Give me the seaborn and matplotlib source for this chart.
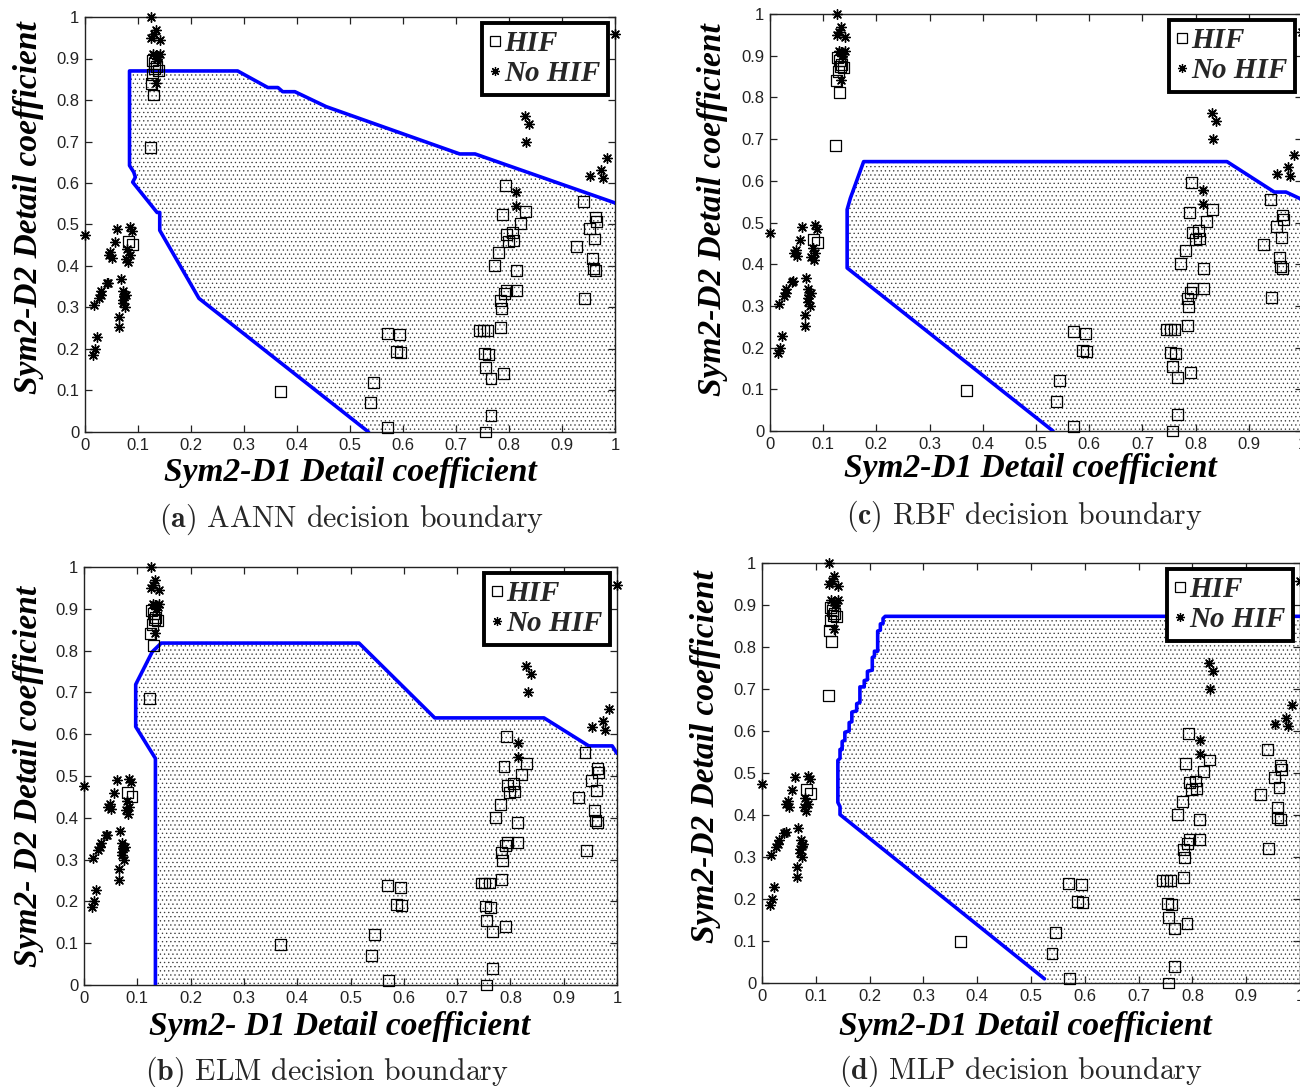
import matplotlib
matplotlib.use("Agg")
import matplotlib.pyplot as plt
from matplotlib.lines import Line2D
import seaborn as sns
import pandas as pd

# ---------------- data ----------------
hif_x = [0.123, 0.130, 0.125, 0.128, 0.132, 0.138, 0.127, 0.131, 0.135, 0.082, 0.090,
         0.369, 0.571, 0.539, 0.545, 0.570, 0.593, 0.587, 0.595,
         0.756, 0.766, 0.745, 0.752, 0.760, 0.753, 0.762, 0.756, 0.766, 0.790,
         0.784, 0.786, 0.784, 0.791, 0.795, 0.814, 0.814, 0.772, 0.781, 0.795,
         0.799, 0.806, 0.808, 0.788, 0.821, 0.831, 0.793,
         0.940, 0.927, 0.942, 0.952, 0.963, 0.965, 0.961, 0.958, 0.959, 0.964]
hif_y = [0.685, 0.812, 0.840, 0.862, 0.875, 0.872, 0.895, 0.888, 0.880, 0.460, 0.452,
         0.098, 0.010, 0.071, 0.120, 0.238, 0.234, 0.193, 0.191,
         0.000, 0.040, 0.244, 0.244, 0.244, 0.189, 0.186, 0.155, 0.129, 0.141,
         0.252, 0.298, 0.317, 0.333, 0.341, 0.341, 0.389, 0.401, 0.432, 0.477,
         0.460, 0.481, 0.462, 0.523, 0.503, 0.531, 0.595,
         0.556, 0.448, 0.321, 0.490, 0.518, 0.508, 0.465, 0.417, 0.394, 0.389]

nohif_x = [0.000, 0.015, 0.019, 0.022, 0.017, 0.026, 0.030, 0.031, 0.041, 0.044,
           0.045, 0.048, 0.050, 0.056, 0.061, 0.067, 0.065, 0.065,
           0.071, 0.074, 0.071, 0.077, 0.072, 0.075, 0.078, 0.082, 0.085, 0.080,
           0.085, 0.089,
           0.125, 0.125, 0.130, 0.134, 0.141, 0.129, 0.134, 0.138, 0.141, 0.136, 0.134,
           0.830, 0.838, 0.833, 0.814, 0.814, 0.985, 0.974, 0.953, 0.978, 1.000]
nohif_y = [0.475, 0.186, 0.200, 0.228, 0.305, 0.323, 0.331, 0.340, 0.358, 0.360,
           0.426, 0.434, 0.420, 0.459, 0.490, 0.368, 0.277, 0.252,
           0.318, 0.327, 0.310, 0.331, 0.340, 0.300, 0.418, 0.409, 0.426, 0.440,
           0.493, 0.485,
           1.000, 0.950, 0.958, 0.969, 0.945, 0.912, 0.908, 0.904, 0.912, 0.900, 0.842,
           0.762, 0.743, 0.700, 0.578, 0.545, 0.661, 0.632, 0.617, 0.611, 0.958]

# decision boundaries (polyline from the bottom edge round to the right edge)
aann_bx = [0.535, 0.215, 0.141, 0.141, 0.136, 0.090, 0.095, 0.092, 0.084, 0.084,
           0.288, 0.345, 0.364, 0.373, 0.396, 0.455, 0.707, 0.736, 1.000]
aann_by = [0.000, 0.322, 0.486, 0.529, 0.529, 0.602, 0.614, 0.626, 0.642, 0.870,
           0.870, 0.830, 0.830, 0.820, 0.820, 0.784, 0.670, 0.670, 0.552]

elm_bx = [0.134, 0.134, 0.097, 0.097, 0.128, 0.145, 0.516, 0.658, 0.863, 0.947, 0.991, 1.000]
elm_by = [0.000, 0.542, 0.618, 0.719, 0.797, 0.818, 0.818, 0.639, 0.639, 0.572, 0.572, 0.554]

rbf_bx = [0.532, 0.145, 0.145, 0.151, 0.176, 0.859, 0.948, 0.970, 1.000]
rbf_by = [0.000, 0.391, 0.531, 0.558, 0.646, 0.646, 0.573, 0.573, 0.555]

mlp_bx = [0.525, 0.145, 0.145, 0.141, 0.141, 0.145, 0.145, 0.149, 0.149, 0.154, 0.154,
          0.162, 0.162, 0.167, 0.167, 0.176, 0.176, 0.182, 0.182, 0.190, 0.190,
          0.196, 0.196, 0.205, 0.205, 0.209, 0.209, 0.215, 0.215, 0.220, 0.220,
          0.225, 0.225, 0.229, 1.000]
mlp_by = [0.010, 0.401, 0.420, 0.430, 0.530, 0.535, 0.556, 0.556, 0.575, 0.578, 0.597,
          0.600, 0.620, 0.622, 0.645, 0.648, 0.665, 0.668, 0.705, 0.705, 0.720,
          0.722, 0.742, 0.745, 0.775, 0.778, 0.790, 0.790, 0.838, 0.840, 0.855,
          0.856, 0.868, 0.873, 0.873]

tick_vals = [0, 0.1, 0.2, 0.3, 0.4, 0.5, 0.6, 0.7, 0.8, 0.9, 1]
tick_labels = ["0", "0.1", "0.2", "0.3", "0.4", "0.5", "0.6", "0.7", "0.8", "0.9", "1"]

panels = [
    dict(key="a", bx=aann_bx, by=aann_by, xlabel="Sym2-D1 Detail coefficient",
         ylabel="Sym2-D2 Detail coefficient", caption="AANN decision boundary"),
    dict(key="b", bx=elm_bx, by=elm_by, xlabel="Sym2- D1 Detail coefficient",
         ylabel="Sym2- D2 Detail coefficient", caption="ELM decision boundary"),
    dict(key="c", bx=rbf_bx, by=rbf_by, xlabel="Sym2-D1 Detail coefficient",
         ylabel="Sym2-D2 Detail coefficient", caption="RBF decision boundary"),
    dict(key="d", bx=mlp_bx, by=mlp_by, xlabel="Sym2-D1 Detail coefficient",
         ylabel="Sym2-D2 Detail coefficient", caption="MLP decision boundary"),
]

# ---------------- style ----------------
sns.set_theme(style="ticks")
plt.rcParams["font.family"] = ["Liberation Sans", "DejaVu Sans"]
plt.rcParams["mathtext.fontset"] = "cm"
plt.rcParams["hatch.linewidth"] = 0.45
plt.rcParams["hatch.color"] = "#3a3a3a"

W, H = 1300, 1087
fig = plt.figure(figsize=(W / 100, H / 100), dpi=100)

# pixel layout: left, right, top, bottom of each axes
layout = {
    "a": (85, 615, 17, 432),
    "b": (84, 617, 567, 985),
    "c": (770, 1302, 14, 431),
    "d": (762, 1300, 563, 983),
}
ylab_pos = {"a": (-0.077, 0.54), "b": (-0.075, 0.50), "c": (-0.079, 0.53), "d": (-0.076, 0.54)}
xlab_pos = {"a": (0.50, -0.060), "b": (0.48, -0.062), "c": (0.49, -0.053), "d": (0.49, -0.066)}
cap_pos = {"a": (352, 519), "b": (327, 1072), "c": (1024, 516), "d": (1021, 1071)}

lab_font = dict(family=["Liberation Serif"], weight="bold", style="italic", size=24)

asterisk = (8, 2, 0)
df_hif = pd.DataFrame({"x": hif_x, "y": hif_y})
df_no = pd.DataFrame({"x": nohif_x, "y": nohif_y})

for p in panels:
    k = p["key"]
    l, r, t, b = layout[k]
    ax = fig.add_axes([l / W, 1 - b / H, (r - l) / W, (b - t) / H])
    ax.set_facecolor("white")

    # stippled region classified as HIF
    fx = list(p["bx"]) + [1.0, p["bx"][0]]
    fy = list(p["by"]) + [0.0, 0.0]
    ax.fill(fx, fy, facecolor="none", edgecolor="#3a3a3a", linewidth=0,
            hatch="....", zorder=1)

    # decision boundary
    sns.lineplot(x=p["bx"], y=p["by"], sort=False, estimator=None, ax=ax,
                 color="#0000ff", linewidth=2.6, zorder=3)

    # data points
    sns.scatterplot(data=df_hif, x="x", y="y", ax=ax, marker="s", s=62,
                    facecolor="none", edgecolor="black", linewidth=0.9,
                    zorder=4, clip_on=False, legend=False)
    sns.scatterplot(data=df_no, x="x", y="y", ax=ax, marker=asterisk, s=48,
                    color="black", edgecolor="black", linewidth=1.0,
                    zorder=4, clip_on=False, legend=False)

    ax.set_xlim(0, 1)
    ax.set_ylim(0, 1)
    ax.set_xticks(tick_vals)
    ax.set_xticklabels(tick_labels)
    ax.set_yticks(tick_vals)
    ax.set_yticklabels(tick_labels)
    ax.tick_params(direction="in", top=True, right=True, length=5, width=0.9,
                   labelsize=12, colors="#222222", pad=4)
    for s in ax.spines.values():
        s.set_visible(True)
        s.set_color("#222222")
        s.set_linewidth(1.0)

    ax.set_xlabel(p["xlabel"], fontdict=lab_font, color="black")
    ax.set_ylabel(p["ylabel"], fontdict=lab_font, color="black")
    ax.xaxis.set_label_coords(*xlab_pos[k])
    ax.yaxis.set_label_coords(*ylab_pos[k])

    handles = [
        Line2D([], [], marker="s", linestyle="none", markerfacecolor="none",
               markeredgecolor="black", markersize=7.5, markeredgewidth=0.9),
        Line2D([], [], marker=asterisk, linestyle="none", color="black",
               markersize=6.5, markeredgewidth=0.9),
    ]
    leg = ax.legend(handles, ["HIF", "No HIF"], loc="upper right",
                    bbox_to_anchor=(1 - 7 / (r - l), 1 - 6 / (b - t)),
                    borderaxespad=0, frameon=True, fancybox=False, framealpha=1,
                    edgecolor="black", handlelength=0.4, handletextpad=0.12,
                    labelspacing=0.1, borderpad=0.25,
                    prop=dict(family=["Liberation Serif"], weight="bold",
                              style="italic", size=21))
    leg.get_frame().set_linewidth(2.8)
    leg.set_zorder(6)

    cx, cy = cap_pos[k]
    fig.text(cx / W, 1 - cy / H, r"$\mathbf{(" + k + r")}$ " + p["caption"],
             ha="center", va="center", fontsize=21.5,
             family=["cmr10", "DejaVu Serif"])

fig.savefig("out.png", dpi=100)
